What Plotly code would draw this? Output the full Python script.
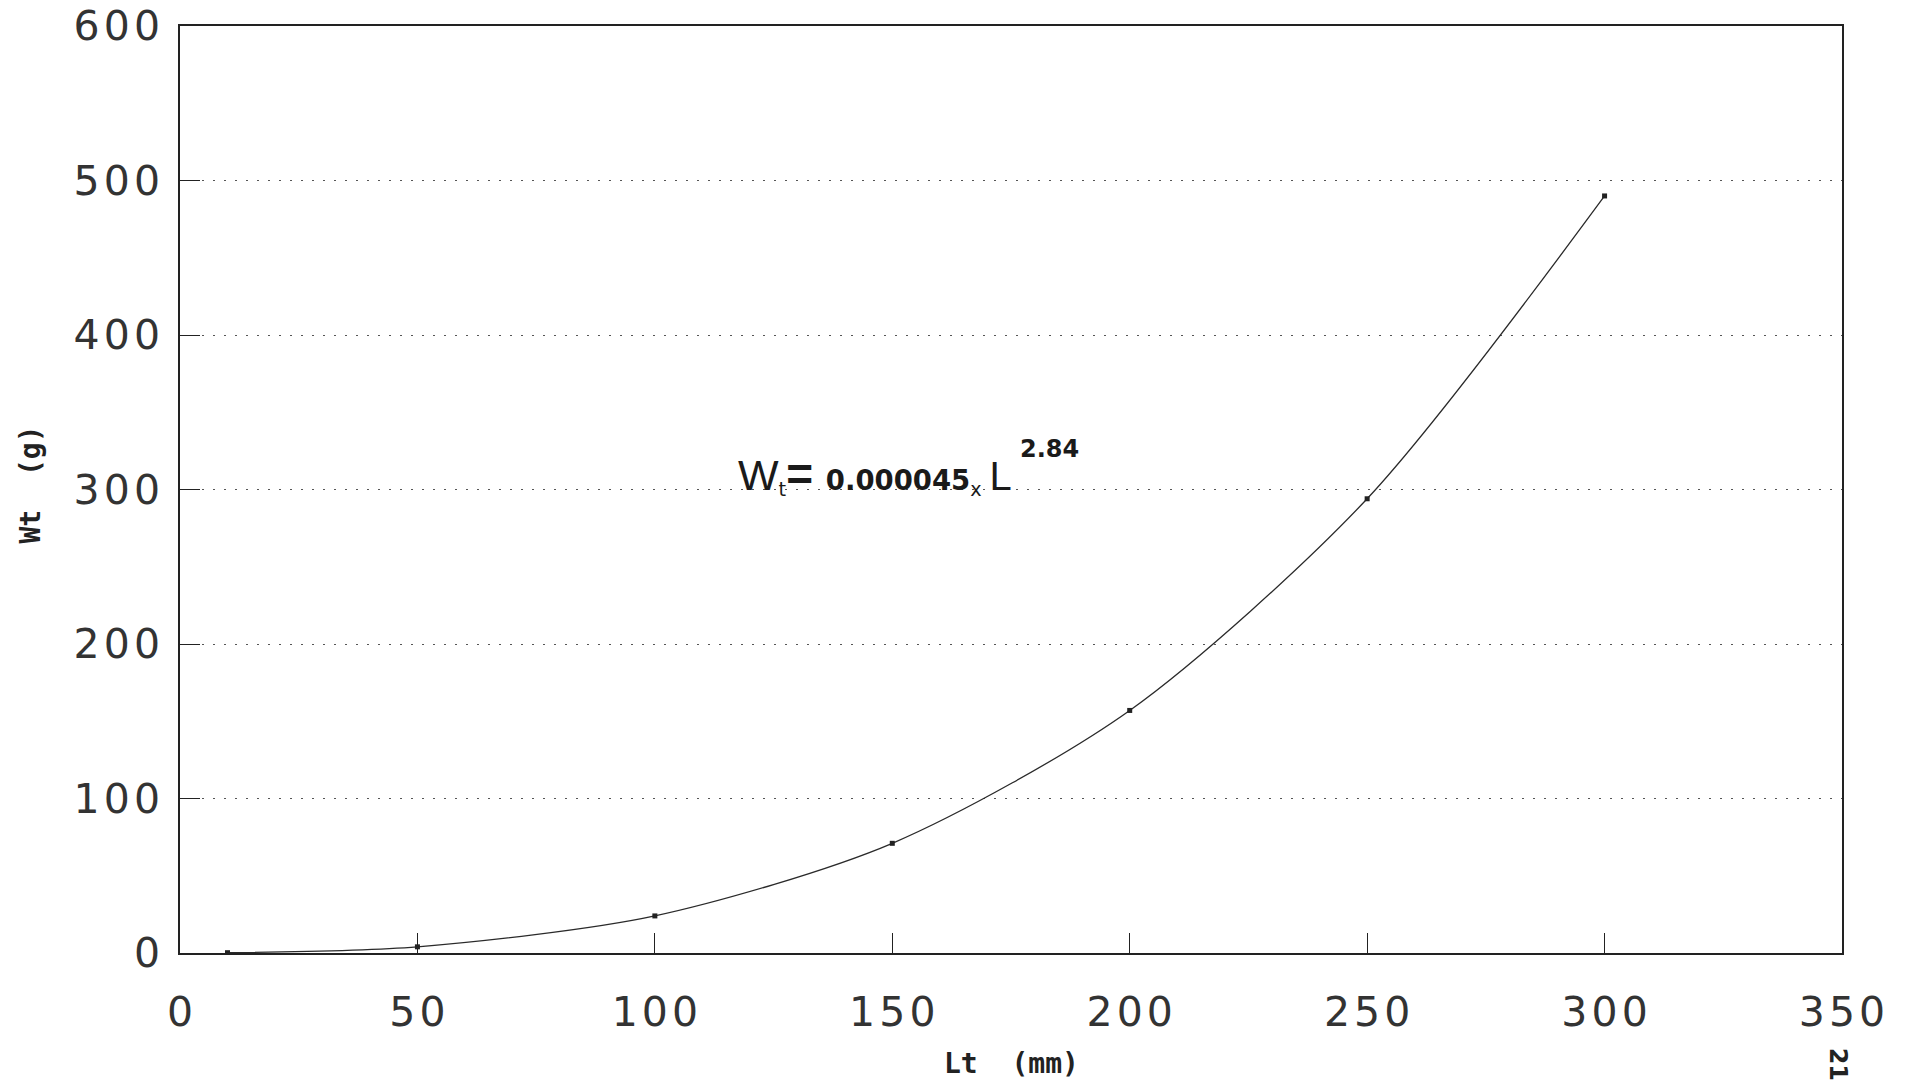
import plotly.graph_objects as go

length_mm = [10, 50, 100, 150, 200, 250, 300]
weight_g = [0.2, 4, 24, 71, 157, 294, 490]

x_ticks = [0, 50, 100, 150, 200, 250, 300, 350]
y_ticks = [0, 100, 200, 300, 400, 500, 600]


def spaced(v):
    return "\u200a".join(str(v))


fig = go.Figure()
fig.add_trace(go.Scatter(
    x=length_mm, y=weight_g, mode="lines+markers",
    line=dict(color="#2a2a2a", width=1.3, shape="spline", smoothing=0.8),
    marker=dict(symbol="square", size=5, color="#222"),
    showlegend=False, cliponaxis=True,
))

tickfont = dict(family="DejaVu Sans", size=41, color="#333333")
fig.update_xaxes(
    range=[0, 350], tickvals=x_ticks, ticktext=[spaced(v) for v in x_ticks],
    showgrid=False, zeroline=False, showline=True, mirror=True, automargin=False,
    linecolor="#222", linewidth=1.5, ticks="inside", ticklen=20,
    tickcolor="#222", tickwidth=1.2, tickfont=tickfont, ticklabelstandoff=22,
)
fig.update_yaxes(
    range=[0, 600], tickvals=y_ticks, ticktext=[spaced(v) for v in y_ticks],
    showgrid=True, gridcolor="#555", griddash="2px,9px", gridwidth=1.3,
    zeroline=False, showline=True, mirror=True, automargin=False,
    linecolor="#222", linewidth=1.5, ticks="inside", ticklen=20,
    tickcolor="#222", tickwidth=1.2, tickfont=tickfont, ticklabelstandoff=10,
)

fig.add_annotation(
    x=117, y=310, xref="x", yref="y", xanchor="left", yanchor="middle",
    showarrow=False,
    text=("<span style='font-family:Liberation Sans;font-size:43px'>W</span>"
          "<sub>t</sub>"
          "<span style='font-family:Liberation Sans;font-size:46px'><b>=</b> </span>"
          "<b>0.000045</b><sub>x</sub>"
          "<span style='font-family:Liberation Sans;font-size:40px'>\u2009L</span>"),
    font=dict(family="DejaVu Sans", size=27.5, color="#1a1a1a"),
)
fig.add_annotation(
    x=176.5, y=326, xref="x", yref="y", xanchor="left", yanchor="middle",
    showarrow=False, text="<b>2.84</b>",
    font=dict(family="DejaVu Sans", size=24, color="#1a1a1a"),
)
fig.add_annotation(
    x=0.5, y=-0.139, xref="paper", yref="paper", showarrow=False,
    text="<b>Lt\u00a0\u00a0(mm)</b>",
    font=dict(family="DejaVu Sans Mono", size=28, color="#222"),
)
fig.add_annotation(
    x=-0.101, y=0.505, xref="paper", yref="paper", showarrow=False,
    text="<b>Wt\u00a0\u00a0(g)</b>", textangle=-90,
    font=dict(family="DejaVu Sans Mono", size=28, color="#222"),
)
fig.add_annotation(
    x=1.007, y=-0.14, xref="paper", yref="paper", showarrow=False,
    text="<b>21</b>", textangle=90,
    font=dict(family="DejaVu Sans", size=24, color="#222"),
)

fig.update_layout(
    width=1909, height=1084,
    margin=dict(l=180, r=67, t=26, b=131),
    paper_bgcolor="white", plot_bgcolor="white",
)
fig.write_html("out.html")
